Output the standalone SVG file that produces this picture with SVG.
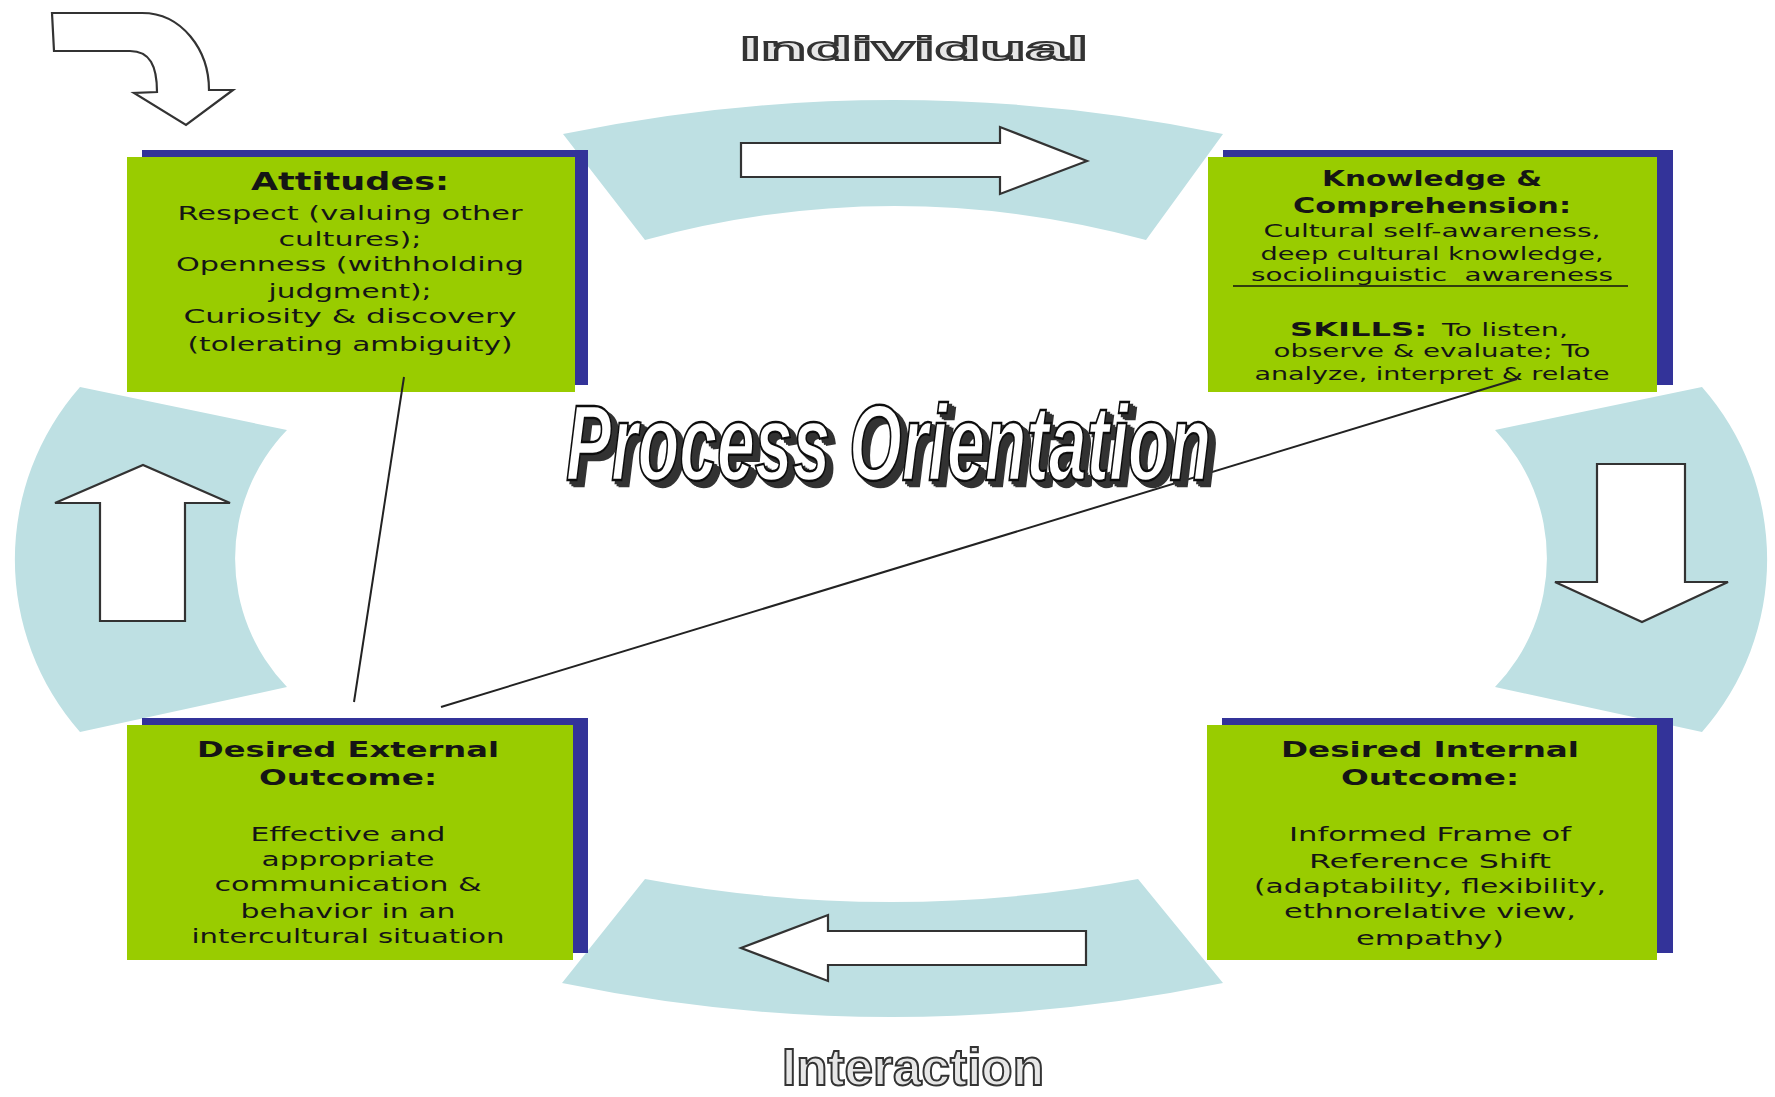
<svg xmlns="http://www.w3.org/2000/svg" width="1775" height="1097" viewBox="0 0 1775 1097">
<defs>
<filter id="extrude" x="-5%" y="-20%" width="115%" height="150%">
<feOffset in="SourceAlpha" dx="3" dy="3" result="o1"/>
<feOffset in="SourceAlpha" dx="5" dy="5" result="o2"/>
<feOffset in="SourceAlpha" dx="7" dy="6" result="o3"/>
<feMerge result="m"><feMergeNode in="o1"/><feMergeNode in="o2"/><feMergeNode in="o3"/></feMerge>
<feFlood flood-color="#333"/>
<feComposite operator="in" in2="m" result="sh"/>
<feMerge><feMergeNode in="sh"/><feMergeNode in="SourceGraphic"/></feMerge>
</filter>
</defs>
<style>
.arc{fill:#bee0e3}
.blk{fill:#fff;stroke:#333;stroke-width:2.2;stroke-linejoin:miter}
.sh{fill:#333399}
.gr{fill:#99cc00}
.t{font-family:"DejaVu Sans",sans-serif;fill:#151515;text-anchor:middle}
.b{font-weight:bold}
.conn{stroke:#222;stroke-width:2;fill:none}
.po{font-family:"Liberation Sans",Arial,sans-serif;font-weight:bold;font-style:italic;font-size:108px}
.lab{font-family:"Liberation Sans",Arial,sans-serif;font-weight:bold;text-anchor:middle}
</style>
<rect width="1775" height="1097" fill="#fff"/>
<g id="cycle-arcs">
<path class="arc" d="M563,134 Q894,66 1223,134 L1146,240 Q894,172 645,240 Z"/>
<path class="arc" d="M645,879 Q891,925 1138,879 L1223,983 Q891,1051 562,983 Z"/>
<path class="arc" d="M80,387 L287,430 A185,185 0 0 0 287,687 L80,732 A261,261 0 0 1 80,387 Z"/>
<path class="arc" d="M1702,387 A261,261 0 0 1 1702,732 L1495,687 A185,185 0 0 0 1495,430 Z"/>
</g>
<g id="block-arrows">
<path class="blk" d="M741,143 L1000,143 L1000,127 L1087,161 L1000,194 L1000,177 L741,177 Z"/>
<path class="blk" d="M1086,931 L828,931 L828,915 L741,948 L828,981 L828,965 L1086,965 Z"/>
<path class="blk" d="M100,621 L100,503 L55,503 L143,465 L230,503 L185,503 L185,621 Z"/>
<path class="blk" d="M1597,464 L1685,464 L1685,582 L1728,582 L1642,622 L1555,582 L1597,582 Z"/>
<path class="blk" d="M52,13 L142,13 C182,13 209,50 209,90 L233,90 L186,125 L134,93 L157,92 C157,66 150,51 130,51 L54,51 Z"/>
</g>
<g id="node-attitudes">
<rect class="sh" x="142" y="150" width="446" height="235"/>
<rect class="gr" x="127" y="157" width="448" height="235"/>
<text class="t b" x="350" y="190" font-size="25" textLength="198" lengthAdjust="spacingAndGlyphs">Attitudes:</text>
<text class="t" x="350" y="220" font-size="19" textLength="345" lengthAdjust="spacingAndGlyphs">Respect (valuing other</text>
<text class="t" x="350" y="246" font-size="19" textLength="143" lengthAdjust="spacingAndGlyphs">cultures);</text>
<text class="t" x="350" y="271" font-size="19" textLength="348" lengthAdjust="spacingAndGlyphs">Openness (withholding</text>
<text class="t" x="350" y="298" font-size="19" textLength="163" lengthAdjust="spacingAndGlyphs">judgment);</text>
<text class="t" x="350" y="323" font-size="19" textLength="333" lengthAdjust="spacingAndGlyphs">Curiosity &amp; discovery</text>
<text class="t" x="350" y="351" font-size="19" textLength="325" lengthAdjust="spacingAndGlyphs">(tolerating ambiguity)</text>
</g>
<g id="node-knowledge">
<rect class="sh" x="1223" y="150" width="450" height="235"/>
<rect class="gr" x="1208" y="157" width="449" height="235"/>
<text class="t b" x="1432" y="186" font-size="21" textLength="220" lengthAdjust="spacingAndGlyphs">Knowledge &amp;</text>
<text class="t b" x="1432" y="213" font-size="21" textLength="278" lengthAdjust="spacingAndGlyphs">Comprehension:</text>
<text class="t" x="1432" y="237" font-size="17" textLength="337" lengthAdjust="spacingAndGlyphs">Cultural self-awareness,</text>
<text class="t" x="1432" y="260" font-size="17" textLength="343" lengthAdjust="spacingAndGlyphs">deep cultural knowledge,</text>
<text class="t" x="1432" y="281" font-size="17" textLength="362" lengthAdjust="spacingAndGlyphs" xml:space="preserve">sociolinguistic  awareness</text>
<line x1="1233" y1="286" x2="1628" y2="286" stroke="#111" stroke-width="1.5"/>
<text class="t b" x="1290" y="336" font-size="20" style="text-anchor:start" textLength="137" lengthAdjust="spacingAndGlyphs">SKILLS:</text>
<text class="t" x="1442" y="336" font-size="17" style="text-anchor:start" textLength="126" lengthAdjust="spacingAndGlyphs">To listen,</text>
<text class="t" x="1432" y="357" font-size="17" textLength="317" lengthAdjust="spacingAndGlyphs">observe &amp; evaluate; To</text>
<text class="t" x="1432" y="380" font-size="17" textLength="355" lengthAdjust="spacingAndGlyphs">analyze, interpret &amp; relate</text>
</g>
<g id="node-external">
<rect class="sh" x="142" y="718" width="446" height="235"/>
<rect class="gr" x="127" y="725" width="446" height="235"/>
<text class="t b" x="348" y="757" font-size="22" textLength="302" lengthAdjust="spacingAndGlyphs">Desired External</text>
<text class="t b" x="348" y="785" font-size="22" textLength="178" lengthAdjust="spacingAndGlyphs">Outcome:</text>
<text class="t" x="348" y="841" font-size="20" textLength="195" lengthAdjust="spacingAndGlyphs">Effective and</text>
<text class="t" x="348" y="866" font-size="20" textLength="173" lengthAdjust="spacingAndGlyphs">appropriate</text>
<text class="t" x="348" y="891" font-size="20" textLength="267" lengthAdjust="spacingAndGlyphs">communication &amp;</text>
<text class="t" x="348" y="918" font-size="20" textLength="215" lengthAdjust="spacingAndGlyphs">behavior in an</text>
<text class="t" x="348" y="943" font-size="20" textLength="313" lengthAdjust="spacingAndGlyphs">intercultural situation</text>
</g>
<g id="node-internal">
<rect class="sh" x="1222" y="718" width="451" height="235"/>
<rect class="gr" x="1207" y="725" width="450" height="235"/>
<text class="t b" x="1430" y="757" font-size="22" textLength="298" lengthAdjust="spacingAndGlyphs">Desired Internal</text>
<text class="t b" x="1430" y="785" font-size="22" textLength="178" lengthAdjust="spacingAndGlyphs">Outcome:</text>
<text class="t" x="1430" y="841" font-size="20" textLength="282" lengthAdjust="spacingAndGlyphs">Informed Frame of</text>
<text class="t" x="1430" y="868" font-size="20" textLength="242" lengthAdjust="spacingAndGlyphs">Reference Shift</text>
<text class="t" x="1430" y="893" font-size="20" textLength="352" lengthAdjust="spacingAndGlyphs">(adaptability, flexibility,</text>
<text class="t" x="1430" y="918" font-size="20" textLength="292" lengthAdjust="spacingAndGlyphs">ethnorelative view,</text>
<text class="t" x="1430" y="945" font-size="20" textLength="148" lengthAdjust="spacingAndGlyphs">empathy)</text>
</g>
<g id="connectors">
<line class="conn" x1="404" y1="377" x2="354" y2="702"/>
<line class="conn" x1="1517" y1="379" x2="441" y2="707"/>
</g>
<g id="title-process">
<text class="po" x="566" y="480" fill="#fff" stroke="#111" stroke-width="2.5" textLength="645" lengthAdjust="spacingAndGlyphs" filter="url(#extrude)">Process Orientation</text>
</g>
<g id="label-individual">
<text class="lab" x="914" y="60" font-size="34" fill="#e6e6e6" stroke="#333" stroke-width="2" textLength="348" lengthAdjust="spacingAndGlyphs">Individual</text>
</g>
<g id="label-interaction">
<text class="lab" x="913" y="1085" font-size="52" fill="#e6e6e6" stroke="#333" stroke-width="2" textLength="262" lengthAdjust="spacingAndGlyphs">Interaction</text>
</g>
</svg>
